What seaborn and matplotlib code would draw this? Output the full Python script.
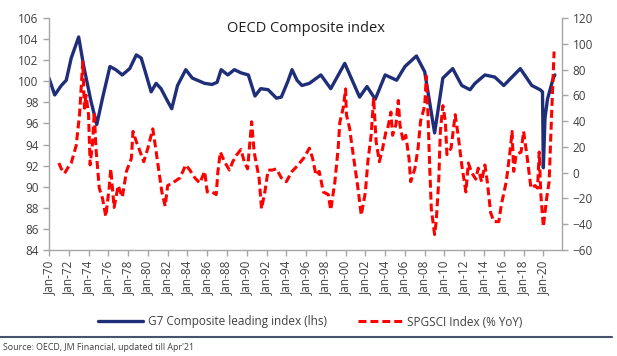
import pandas as pd
import numpy as np
import matplotlib
matplotlib.use("Agg")
import matplotlib.pyplot as plt
import matplotlib.dates as mdates
from matplotlib.lines import Line2D
import seaborn as sns

# G7 composite leading index (lhs)
cli_dates = ["1970-01", "1970-08", "1971-04", "1971-10", "1972-04", "1973-01", "1973-07",
             "1974-04", "1974-11", "1975-06", "1976-03", "1976-10", "1977-06", "1978-03",
             "1978-11", "1979-05", "1979-11", "1980-05", "1980-11", "1981-05", "1982-01",
             "1982-06", "1983-01", "1983-11", "1984-07", "1985-01", "1985-10", "1986-07",
             "1987-01", "1987-06", "1988-02", "1988-10", "1989-06", "1990-03", "1990-11",
             "1991-06", "1992-03", "1993-01", "1993-07", "1994-03", "1994-08", "1995-02",
             "1995-08", "1996-05", "1997-07", "1998-07", "1999-12", "2001-06", "2002-03",
             "2003-01", "2004-01", "2005-03", "2006-01", "2007-03", "2008-01", "2009-01",
             "2009-11", "2010-11", "2011-10", "2012-08", "2013-02", "2014-02", "2015-02",
             "2016-01", "2017-09", "2018-11", "2019-09", "2019-12", "2020-01", "2020-03",
             "2020-06", "2021-01", "2021-03"]
cli_vals = [100.3, 98.7, 99.6, 100.1, 102.2, 104.2, 101.5,
            98.1, 95.9, 98.4, 101.4, 101.1, 100.6, 101.2,
            102.5, 102.2, 100.6, 99.0, 99.8, 99.3, 98.1,
            97.4, 99.6, 101.1, 100.3, 100.1, 99.8, 99.7,
            99.9, 101.1, 100.6, 101.1, 100.8, 100.6, 98.6,
            99.3, 99.2, 98.4, 98.5, 100.0, 101.1, 100.1,
            99.6, 99.8, 100.6, 99.3, 101.7, 98.5, 99.5,
            98.3, 100.6, 100.1, 101.4, 102.4, 100.9, 95.1,
            100.3, 101.2, 99.6, 99.2, 99.8, 100.6, 100.4,
            99.6, 101.2, 99.6, 99.2, 99.0, 91.8, 96.5,
            98.3, 100.3, 100.6]

# SPGSCI index % YoY (rhs)
gsci_dates = ["1971-01", "1971-04", "1971-08", "1972-01", "1972-04", "1972-10", "1973-02",
              "1973-06", "1973-08", "1973-10", "1974-01", "1974-03", "1974-06", "1974-08",
              "1974-10", "1975-02", "1975-06", "1975-10", "1976-02", "1976-04", "1976-08",
              "1977-01", "1977-06", "1977-11", "1978-05", "1978-07", "1978-11", "1979-02",
              "1979-08", "1980-01", "1980-07", "1980-10", "1981-02", "1981-06", "1981-10",
              "1982-01", "1982-07", "1983-04", "1983-11", "1984-04", "1984-10", "1985-04",
              "1985-10", "1986-01", "1986-07", "1986-12", "1987-02", "1987-05", "1987-10",
              "1988-04", "1988-08", "1989-01", "1989-06", "1989-10", "1990-02", "1990-07",
              "1990-10", "1991-01", "1991-04", "1991-07", "1991-11", "1992-03", "1992-08",
              "1993-01", "1993-07", "1994-01", "1994-08", "1995-02", "1995-11", "1996-05",
              "1996-09", "1997-01", "1997-05", "1997-10", "1998-04", "1998-07", "1998-12",
              "1999-04", "1999-06", "1999-10", "2000-01", "2000-02", "2000-06", "2000-08",
              "2001-01", "2001-04", "2001-08", "2002-01", "2002-04", "2002-08", "2002-11",
              "2003-02", "2003-06", "2003-10", "2004-02", "2004-04", "2004-08", "2004-10",
              "2005-02", "2005-05", "2005-07", "2005-11", "2006-02", "2006-06", "2006-08",
              "2007-01", "2007-05", "2007-08", "2008-01", "2008-03", "2008-05", "2008-07",
              "2008-09", "2009-01", "2009-03", "2009-06", "2009-08", "2009-11", "2010-02",
              "2010-04", "2010-09", "2011-02", "2011-06", "2011-10", "2012-03", "2012-06",
              "2012-10", "2013-03", "2013-06", "2013-10", "2014-02", "2014-05", "2014-09",
              "2015-01", "2015-07", "2015-10", "2016-04", "2016-09", "2016-11", "2017-01",
              "2017-04", "2017-10", "2018-01", "2018-05", "2018-10", "2019-03", "2019-06",
              "2019-08", "2019-10", "2020-01", "2020-05", "2020-08", "2020-11", "2021-02"]
gsci_vals = [7.5, 3, -0.5, 5, 7.5, 21, 45,
             86, 50, 60, 45, 6, 24, 47,
             19, -12, -20, -34, -12, 3, -27,
             -10, -19, 1, 11, 32, 24, 19,
             8.5, 19, 34, 21, 3, -15, -26,
             -10, -8, -4, 6, 2, -4, -8,
             1, -15, -15, -17, 1, 16, 8.5,
             2, 8.5, 14, 18, 8.5, 3, 39.5,
             16, 6, -4, -28, -15, 2, 2,
             3, -4, -7, 1, 5, 12, 19,
             11, -2, 1, -15, -17, -29, -7,
             19, 39, 50, 65, 45, 34, 24,
             1, -12, -33, -15, 8.5, 29, 58,
             24, 8.5, 19, 32, 34, 47, 29,
             37, 56, 37, 24, 29, 11, -7,
             3, 19, 40, 52, 75, 45, 6,
             -28, -48, -38, -7, 32, 52, 40,
             14, 19, 45, 27, 6, -15, 7.5,
             0, -5, 3.5, -7, 6, -7, -31,
             -38, -38, -25, -7, 19, 32, 1,
             14, 16, 32, 14, -12, -10, -12,
             16, -17, -42, -20, -7, 45, 94]

cli = pd.DataFrame({"date": pd.to_datetime(cli_dates), "value": cli_vals})
gsci = pd.DataFrame({"date": pd.to_datetime(gsci_dates), "value": gsci_vals})

sns.set_style("white")
plt.rcParams["font.family"] = ["Open Sans", "DejaVu Sans"]

grey = "#A6A6A6"
txt = "#404040"
navy = "#1F2E78"
red = "#FF0000"

fig = plt.figure(figsize=(6.17, 3.56), dpi=100)
ax = fig.add_axes([49 / 617, 1 - 250 / 356, (562 - 49) / 617, (250 - 18) / 356])
ax2 = ax.twinx()

sns.lineplot(data=cli, x="date", y="value", ax=ax, color=navy, linewidth=2.4,
             solid_joinstyle="round", solid_capstyle="round",
             label="G7 Composite leading index (lhs)", legend=False)
sns.lineplot(data=gsci, x="date", y="value", ax=ax2, color=red, linewidth=2.2,
             linestyle=(0, (2.6, 1.3)), dash_joinstyle="round",
             label="SPGSCI Index (% YoY)", legend=False)

ax.set_xlim(pd.Timestamp("1970-01-01"), pd.Timestamp("2021-11-20"))
ax.set_ylim(84, 106)
ax.set_yticks(np.arange(84, 107, 2))
ax2.set_ylim(-60, 120)
ax2.set_yticks(np.arange(-60, 121, 20))

ax.xaxis.set_major_locator(mdates.YearLocator(2, month=1, day=1))
ax.xaxis.set_major_formatter(mdates.DateFormatter("%b-%y"))
plt.setp(ax.get_xticklabels(), rotation=90)

for a in (ax, ax2):
    a.set_xlabel("")
    a.set_ylabel("")
    for s in a.spines.values():
        s.set_color(grey)
        s.set_linewidth(1.0)
    a.spines["top"].set_visible(False)
    a.tick_params(colors=grey, labelcolor=txt, labelsize=8.5, length=4, width=1.0)
ax.spines["right"].set_visible(False)
ax2.spines["left"].set_visible(False)
ax2.spines["bottom"].set_visible(False)
ax.tick_params(axis="x", bottom=True, length=4)
ax.tick_params(axis="y", left=True)
ax2.tick_params(axis="y", right=True)

ax.set_title("OECD Composite index", fontsize=10.5, color="#202020", y=0.94, pad=0)

h1, l1 = ax.get_legend_handles_labels()
h2, l2 = ax2.get_legend_handles_labels()
fig.legend(h1 + h2, l1 + l2, loc="center", bbox_to_anchor=(0.503, 1 - 322 / 356), ncol=2,
           frameon=False, fontsize=8.5, handlelength=3.8, columnspacing=2.6,
           handletextpad=0.4, labelcolor=txt)

fig.add_artist(Line2D([0.0, 0.992], [1 - 337 / 356, 1 - 337 / 356], transform=fig.transFigure,
                      color="#44546A", linewidth=1.5))
fig.text(0.005, 1 - 348 / 356, "Source: OECD, JM Financial, updated till Apr'21",
         fontsize=6.4, color=txt, va="center", ha="left")

fig.savefig("out.png", dpi=100)
